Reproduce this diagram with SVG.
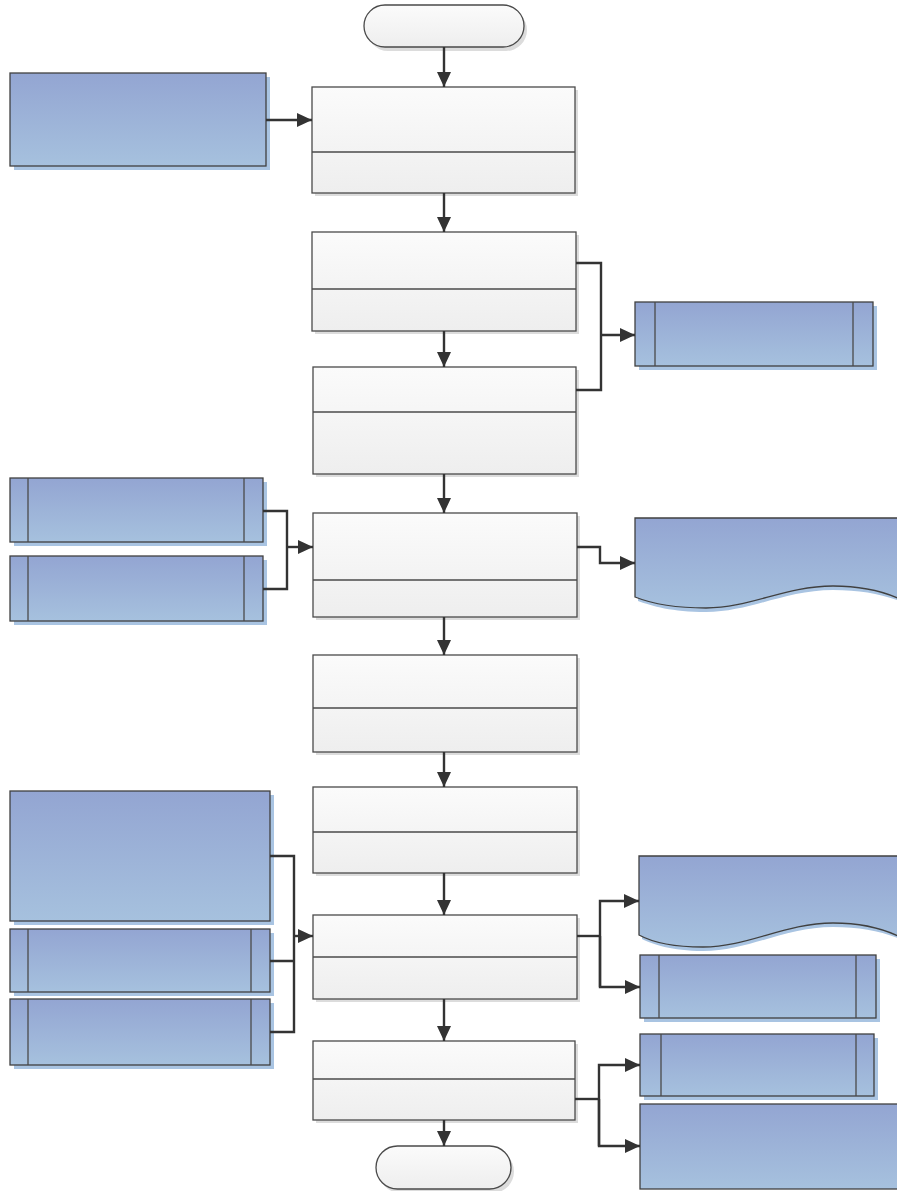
<svg xmlns="http://www.w3.org/2000/svg" width="897" height="1191" viewBox="0 0 897 1191">
<defs>
<linearGradient id="gw" x1="0" y1="0" x2="0" y2="1"><stop offset="0" stop-color="#fbfbfb"/><stop offset="1" stop-color="#eeeeee"/></linearGradient>
<linearGradient id="gb" x1="0" y1="0" x2="0" y2="1"><stop offset="0" stop-color="#93a5d2"/><stop offset="1" stop-color="#a6c1de"/></linearGradient>
<marker id="ah" markerUnits="userSpaceOnUse" markerWidth="16" markerHeight="14" refX="15" refY="7" orient="auto"><path d="M0,0 L15,7 L0,14 Z" fill="#333"/></marker>
</defs>
<style>
.w{fill:url(#gw);stroke:#4a4a4a;stroke-width:1.3}
.b{fill:url(#gb);stroke:#404040;stroke-width:1.3}
.sw{fill:#dcdcdc}
.sb{fill:#a9c4e2}
.dv{stroke:#4a4a4a;stroke-width:1.3;fill:none}
.c{stroke:#333;stroke-width:2.4;fill:none}
.a{stroke:#333;stroke-width:2.4;fill:none;marker-end:url(#ah)}
</style>
<rect width="897" height="1191" fill="#fff"/>

<g id="start"><rect class="sw" x="367" y="9" width="160" height="42" rx="21"/><rect class="w" x="364" y="5" width="160" height="42" rx="21"/></g>
<g id="box1"><rect class="sw" x="315" y="90" width="263" height="106"/><rect class="w" x="312" y="87" width="263" height="106"/><line class="dv" x1="312" y1="152" x2="575" y2="152"/></g>
<g id="inputA"><rect class="sb" x="14" y="77" width="256" height="93"/><rect class="b" x="10" y="73" width="256" height="93"/></g>
<g id="box2"><rect class="sw" x="315" y="235" width="264" height="99"/><rect class="w" x="312" y="232" width="264" height="99"/><line class="dv" x1="312" y1="289" x2="576" y2="289"/></g>
<g id="box3"><rect class="sw" x="316" y="370" width="263" height="107"/><rect class="w" x="313" y="367" width="263" height="107"/><line class="dv" x1="313" y1="412" x2="576" y2="412"/></g>
<g id="p1"><rect class="sb" x="639" y="306" width="238" height="64"/><rect class="b" x="635" y="302" width="238" height="64"/><line class="dv" x1="655" y1="302" x2="655" y2="366"/><line class="dv" x1="853" y1="302" x2="853" y2="366"/></g>
<g id="box4"><rect class="sw" x="316" y="516" width="264" height="104"/><rect class="w" x="313" y="513" width="264" height="104"/><line class="dv" x1="313" y1="580" x2="577" y2="580"/></g>
<g id="p2"><rect class="sb" x="14" y="482" width="253" height="64"/><rect class="b" x="10" y="478" width="253" height="64"/><line class="dv" x1="28" y1="478" x2="28" y2="542"/><line class="dv" x1="244" y1="478" x2="244" y2="542"/></g>
<g id="p3"><rect class="sb" x="14" y="560" width="253" height="65"/><rect class="b" x="10" y="556" width="253" height="65"/><line class="dv" x1="28" y1="556" x2="28" y2="621"/><line class="dv" x1="244" y1="556" x2="244" y2="621"/></g>
<g id="doc1"><path class="sb" d="M638,522 H900 V601 C880,594 860,590 833,590 C785,590 750,612 706,612 C672,612 652,606 638,601 Z"/><path class="b" d="M635,518 H900 V599 C880,590 860,586 833,586 C785,586 750,608 706,608 C672,608 650,603 635,597 Z"/></g>
<g id="box5"><rect class="sw" x="316" y="658" width="264" height="97"/><rect class="w" x="313" y="655" width="264" height="97"/><line class="dv" x1="313" y1="708" x2="577" y2="708"/></g>
<g id="box6"><rect class="sw" x="316" y="790" width="264" height="86"/><rect class="w" x="313" y="787" width="264" height="86"/><line class="dv" x1="313" y1="832" x2="577" y2="832"/></g>
<g id="box7"><rect class="sw" x="316" y="918" width="264" height="84"/><rect class="w" x="313" y="915" width="264" height="84"/><line class="dv" x1="313" y1="957" x2="577" y2="957"/></g>
<g id="inputB"><rect class="sb" x="14" y="795" width="260" height="130"/><rect class="b" x="10" y="791" width="260" height="130"/></g>
<g id="p4"><rect class="sb" x="14" y="933" width="260" height="63"/><rect class="b" x="10" y="929" width="260" height="63"/><line class="dv" x1="28" y1="929" x2="28" y2="992"/><line class="dv" x1="251" y1="929" x2="251" y2="992"/></g>
<g id="p5"><rect class="sb" x="14" y="1003" width="260" height="66"/><rect class="b" x="10" y="999" width="260" height="66"/><line class="dv" x1="28" y1="999" x2="28" y2="1065"/><line class="dv" x1="251" y1="999" x2="251" y2="1065"/></g>
<g id="doc2"><path class="sb" d="M642,860 H900 V939 C880,931 860,927 833,927 C785,927 748,951 703,951 C672,951 652,944 642,939 Z"/><path class="b" d="M639,856 H900 V937 C880,927 860,923 833,923 C785,923 748,947 703,947 C670,947 650,941 639,935 Z"/></g>
<g id="p6"><rect class="sb" x="644" y="959" width="236" height="63"/><rect class="b" x="640" y="955" width="236" height="63"/><line class="dv" x1="659" y1="955" x2="659" y2="1018"/><line class="dv" x1="856" y1="955" x2="856" y2="1018"/></g>
<g id="box8"><rect class="sw" x="316" y="1044" width="262" height="79"/><rect class="w" x="313" y="1041" width="262" height="79"/><line class="dv" x1="313" y1="1079" x2="575" y2="1079"/></g>
<g id="p7"><rect class="sb" x="644" y="1038" width="234" height="62"/><rect class="b" x="640" y="1034" width="234" height="62"/><line class="dv" x1="661" y1="1034" x2="661" y2="1096"/><line class="dv" x1="856" y1="1034" x2="856" y2="1096"/></g>
<g id="outR"><rect class="b" x="640" y="1104" width="260" height="85"/></g>
<g id="end"><rect class="sw" x="379" y="1150" width="135" height="43" rx="21.5"/><rect class="w" x="376" y="1146" width="135" height="43" rx="21.5"/></g>

<g id="connectors">
<line class="a" x1="444" y1="47" x2="444" y2="87"/>
<line class="a" x1="266" y1="120" x2="312" y2="120"/>
<line class="a" x1="444" y1="193" x2="444" y2="232"/>
<line class="a" x1="444" y1="331" x2="444" y2="367"/>
<path class="c" d="M576,263 H601 V390 H576"/>
<line class="a" x1="601" y1="335" x2="635" y2="335"/>
<line class="a" x1="444" y1="474" x2="444" y2="513"/>
<path class="c" d="M263,511 H287 V589 H263"/>
<line class="a" x1="287" y1="547" x2="313" y2="547"/>
<path class="a" d="M577,547 H600 V563 H635"/>
<line class="a" x1="444" y1="617" x2="444" y2="655"/>
<line class="a" x1="444" y1="752" x2="444" y2="787"/>
<line class="a" x1="444" y1="873" x2="444" y2="915"/>
<path class="c" d="M270,856 H294 V1032 H270 M270,961 H294"/>
<line class="a" x1="294" y1="936" x2="313" y2="936"/>
<line class="c" x1="577" y1="936" x2="600" y2="936"/>
<path class="a" d="M600,987 V901 H639"/>
<path class="a" d="M600,936 V987 H640"/>
<line class="a" x1="444" y1="999" x2="444" y2="1041"/>
<line class="a" x1="444" y1="1120" x2="444" y2="1146"/>
<line class="c" x1="575" y1="1099" x2="599" y2="1099"/>
<path class="a" d="M599,1146 V1065 H640"/>
<path class="a" d="M599,1099 V1146 H640"/>
</g>
</svg>
